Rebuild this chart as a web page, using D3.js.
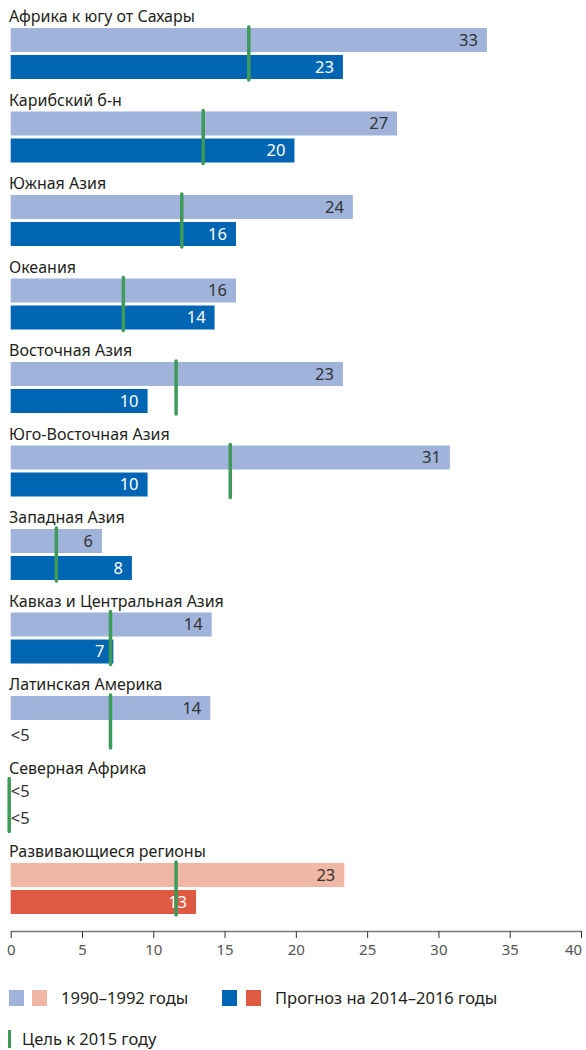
<!DOCTYPE html>
<html>
<head>
<meta charset="utf-8">
<script src="https://cdn.jsdelivr.net/npm/d3@7"></script>
<style>
  body { margin: 0; background: #fff; }
  text { font-family: "Noto Sans", sans-serif; }
</style>
</head>
<body>
<div id="chart"></div>
<script>
var width = 586, height = 1050;

// regions and values (% undernourished), null = "<5"
var regions = ["Африка к югу от Сахары", "Карибский б-н", "Южная Азия", "Океания", "Восточная Азия",
  "Юго-Восточная Азия", "Западная Азия", "Кавказ и Центральная Азия", "Латинская Америка",
  "Северная Африка", "Развивающиеся регионы"];
var v1990 = [33.4, 27.1, 24.0, 15.8, 23.3, 30.8, 6.4, 14.1, 14.0, null, 23.4];
var v2014 = [23.3, 19.9, 15.8, 14.3, 9.6, 9.6, 8.5, 7.2, null, null, 13.0];
var lab1990 = ["33", "27", "24", "16", "23", "31", "6", "14", "14", "<5", "23"];
var lab2014 = ["23", "20", "16", "14", "10", "10", "8", "7", "<5", "<5", "13"];
var target = [16.7, 13.5, 12.0, 7.9, 11.6, 15.4, 3.2, 7.0, 7.0, 0, 11.6];
var ticks = [0, 5, 10, 15, 20, 25, 30, 35, 40];

var colLight = "#9fb3db", colDark = "#0066b3";
var colLightDev = "#f0b8a4", colDarkDev = "#de5a43";
var colGoal = "#3d9a58";

var x = d3.scaleLinear().domain([0, 40]).range([10.7, 581]);

var step = 83.5, barTop = 28, barH = 24, barGap = 3;

var svg = d3.select("#chart").append("svg")
    .attr("width", width)
    .attr("height", height);

var g = svg.selectAll(".region")
    .data(regions)
    .enter().append("g")
    .attr("class", "region")
    .attr("transform", function(d, i) { return "translate(0," + (i * step) + ")"; });

// region titles
g.append("text")
    .attr("x", 9)
    .attr("y", 22)
    .attr("font-size", 16)
    .attr("fill", "#231f20")
    .text(function(d) { return d; });

function isDev(i) { return i === regions.length - 1; }

// 1990-1992 bars
g.append("rect")
    .attr("x", x(0))
    .attr("y", barTop)
    .attr("height", barH)
    .attr("width", function(d, i) { return v1990[i] == null ? 0 : x(v1990[i]) - x(0); })
    .attr("fill", function(d, i) { return isDev(i) ? colLightDev : colLight; });

// 2014-2016 bars
g.append("rect")
    .attr("x", x(0))
    .attr("y", barTop + barH + barGap)
    .attr("height", barH)
    .attr("width", function(d, i) { return v2014[i] == null ? 0 : x(v2014[i]) - x(0); })
    .attr("fill", function(d, i) { return isDev(i) ? colDarkDev : colDark; });

// value labels
g.append("text")
    .attr("x", function(d, i) { return v1990[i] == null ? x(0) : x(v1990[i]) - 9; })
    .attr("y", barTop + barH / 2)
    .attr("dy", "0.36em")
    .attr("text-anchor", function(d, i) { return v1990[i] == null ? "start" : "end"; })
    .attr("font-size", 16.5)
    .attr("fill", "#333")
    .text(function(d, i) { return lab1990[i]; });

g.append("text")
    .attr("x", function(d, i) { return v2014[i] == null ? x(0) : x(v2014[i]) - 9; })
    .attr("y", barTop + barH * 1.5 + barGap)
    .attr("dy", "0.36em")
    .attr("text-anchor", function(d, i) { return v2014[i] == null ? "start" : "end"; })
    .attr("font-size", 16.5)
    .attr("fill", function(d, i) { return v2014[i] == null ? "#333" : "#fff"; })
    .text(function(d, i) { return lab2014[i]; });

// goal lines
g.append("line")
    .attr("x1", function(d, i) { return target[i] === 0 ? x(0) - 1.5 : x(target[i]); })
    .attr("x2", function(d, i) { return target[i] === 0 ? x(0) - 1.5 : x(target[i]); })
    .attr("y1", barTop - 1)
    .attr("y2", barTop + barH * 2 + barGap + 1)
    .attr("stroke", colGoal)
    .attr("stroke-width", 3.5)
    .attr("stroke-linecap", "round");

// axis
var axis = svg.append("g")
    .attr("transform", "translate(0,931)")
    .call(d3.axisBottom(x).tickValues(ticks).tickSize(7).tickSizeOuter(0).tickPadding(6));

axis.select(".domain").attr("stroke", "#777").attr("stroke-width", 1.3);
axis.selectAll(".tick line").attr("stroke", "#333");
axis.selectAll(".tick text")
    .attr("font-size", 15)
    .attr("fill", "#555")
    .style("font-family", "'Noto Sans', sans-serif")
    .attr("dx", function(d) { return d === 40 ? -8 : 0; });

// legend
var legend = svg.append("g");
var sw = [[9, colLight], [32, colLightDev], [222, colDark], [246, colDarkDev]];
legend.selectAll("rect")
    .data(sw)
    .enter().append("rect")
    .attr("x", function(d) { return d[0]; })
    .attr("y", 990)
    .attr("width", 15)
    .attr("height", 16)
    .attr("fill", function(d) { return d[1]; });

legend.append("text").attr("x", 61).attr("y", 1004).attr("font-size", 16.5).attr("fill", "#231f20")
    .text("1990–1992 годы");
legend.append("text").attr("x", 275).attr("y", 1004).attr("font-size", 16.5).attr("fill", "#231f20")
    .text("Прогноз на 2014–2016 годы");

legend.append("line")
    .attr("x1", 9.5).attr("x2", 9.5)
    .attr("y1", 1030).attr("y2", 1048)
    .attr("stroke", colGoal).attr("stroke-width", 3);
legend.append("text").attr("x", 22).attr("y", 1045).attr("font-size", 16.5).attr("fill", "#231f20")
    .text("Цель к 2015 году");
</script>
</body>
</html>
